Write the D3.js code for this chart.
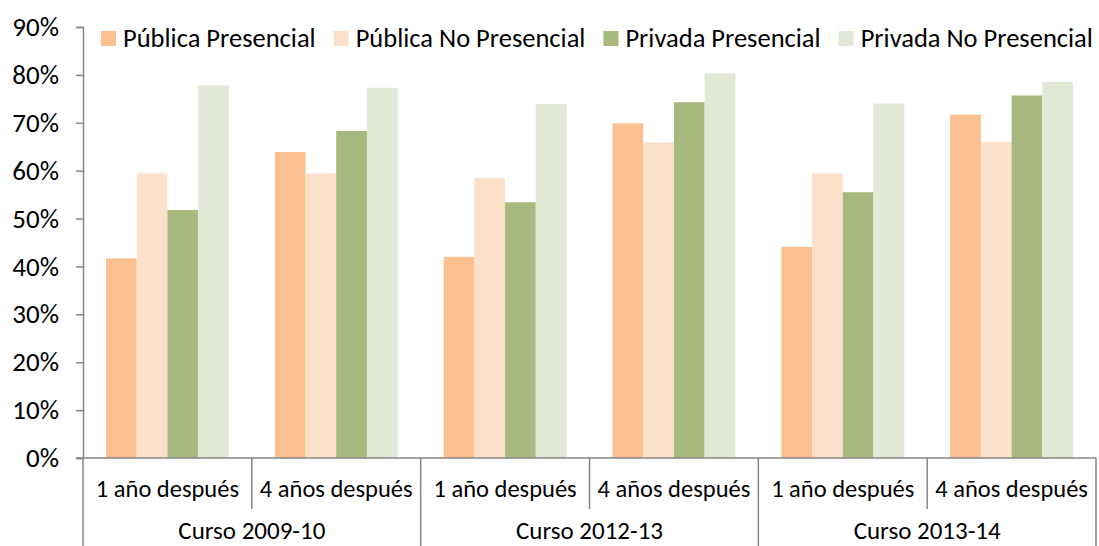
<!DOCTYPE html>
<html>
<head>
<meta charset="utf-8">
<script src="https://cdn.jsdelivr.net/npm/d3@7"></script>
<style>
  body { margin: 0; background: #fff; }
  text { font-family: Carlito, Calibri, Lato, sans-serif; fill: #000; }
</style>
</head>
<body>
<div id="chart"></div>
<script>
// Data
const groups = ["Curso 2009-10", "Curso 2012-13", "Curso 2013-14"];
const periods = ["1 año después", "4 años después"];
const seriesNames = ["Pública Presencial", "Pública No Presencial", "Privada Presencial", "Privada No Presencial"];
const seriesColors = ["#FAC090", "#FBE0CA", "#A8B97F", "#E1E8D6"];
const yTicks = [0, 10, 20, 30, 40, 50, 60, 70, 80, 90];

// one value per (group, period), in order
const publicaPresencial   = [41.7, 63.9, 42.0, 69.9, 44.1, 71.7];
const publicaNoPresencial = [59.4, 59.4, 58.5, 65.9, 59.4, 66.0];
const privadaPresencial   = [51.8, 68.3, 53.4, 74.3, 55.5, 75.7];
const privadaNoPresencial = [77.8, 77.3, 73.9, 80.3, 74.0, 78.5];

const seriesValues = [publicaPresencial, publicaNoPresencial, privadaPresencial, privadaNoPresencial];

// categories: group x period
const categories = [];
groups.forEach(g => periods.forEach(p => categories.push({ group: g, period: p, key: g + "|" + p })));

const width = 1099;
const height = 546;
const margin = { left: 83, right: 3, top: 27, bottom: 88 };
const axisColor = "#868686";

const svg = d3.select("#chart")
  .append("svg")
  .attr("width", width)
  .attr("height", height);

const x0 = d3.scaleBand()
  .domain(categories.map(d => d.key))
  .range([margin.left, width - margin.right]);

const x1 = d3.scaleBand()
  .domain(seriesNames)
  .range([23, x0.bandwidth() - 23]);

const y = d3.scaleLinear()
  .domain([0, 90])
  .range([height - margin.bottom, margin.top]);

// bars
const barGroups = svg.append("g")
  .selectAll("g")
  .data(categories)
  .enter()
  .append("g")
  .attr("transform", d => `translate(${x0(d.key)},0)`);

barGroups.selectAll("rect")
  .data((d, i) => seriesNames.map((s, j) => ({ series: s, value: seriesValues[j][i], color: seriesColors[j] })))
  .enter()
  .append("rect")
  .attr("x", d => x1(d.series))
  .attr("y", d => y(d.value))
  .attr("width", x1.bandwidth())
  .attr("height", d => y(0) - y(d.value))
  .attr("fill", d => d.color);

// y axis
const yAxis = svg.append("g")
  .attr("transform", `translate(${margin.left},0)`)
  .call(d3.axisLeft(y).tickValues(yTicks).tickSize(7).tickPadding(17).tickFormat(d => d + "%"));
yAxis.select(".domain").attr("stroke", axisColor).attr("stroke-width", 1.5);
yAxis.selectAll(".tick line").attr("stroke", axisColor).attr("stroke-width", 1.5);
yAxis.selectAll(".tick text")
  .style("font-size", "27px")
  .style("font-family", "Carlito, Calibri, Lato, sans-serif")
  .attr("fill", "#000");

// x axis: baseline and category dividers
const xAxis = svg.append("g");
const base = y(0);
const [xStart, xEnd] = x0.range();

xAxis.append("line")
  .attr("x1", xStart - 7).attr("x2", xEnd)
  .attr("y1", base).attr("y2", base)
  .attr("stroke", axisColor).attr("stroke-width", 1.5);

// period dividers (short) and group dividers (long)
categories.forEach((c, i) => {
  const xPos = x0(c.key);
  const isGroupEdge = i % periods.length === 0;
  xAxis.append("line")
    .attr("x1", xPos).attr("x2", xPos)
    .attr("y1", base).attr("y2", isGroupEdge ? height : base + 51)
    .attr("stroke", axisColor).attr("stroke-width", 1.5);
});
xAxis.append("line")
  .attr("x1", xEnd).attr("x2", xEnd)
  .attr("y1", base).attr("y2", height)
  .attr("stroke", axisColor).attr("stroke-width", 1.5);

// period labels
xAxis.selectAll("text.period")
  .data(categories)
  .enter()
  .append("text")
  .attr("class", "period")
  .attr("x", d => x0(d.key) + x0.bandwidth() / 2)
  .attr("y", base + 39)
  .attr("text-anchor", "middle")
  .style("font-size", "24.5px")
  .text(d => d.period);

// group labels
xAxis.selectAll("text.group")
  .data(groups)
  .enter()
  .append("text")
  .attr("class", "group")
  .attr("x", (g, i) => x0(categories[i * periods.length].key) + x0.bandwidth() * periods.length / 2)
  .attr("y", base + 81)
  .attr("text-anchor", "middle")
  .style("font-size", "25px")
  .text(g => g);

// legend across the top
const legend = svg.append("g").attr("transform", "translate(101,31)");
let lx = 0;
seriesNames.forEach((s, i) => {
  const item = legend.append("g").attr("transform", `translate(${lx},0)`);
  item.append("rect")
    .attr("width", 15).attr("height", 15)
    .attr("fill", seriesColors[i]);
  const t = item.append("text")
    .attr("x", 22)
    .attr("y", 16)
    .style("font-size", "26.5px")
    .text(s);
  lx += 22 + t.node().getComputedTextLength() + 18;
});
</script>
</body>
</html>
